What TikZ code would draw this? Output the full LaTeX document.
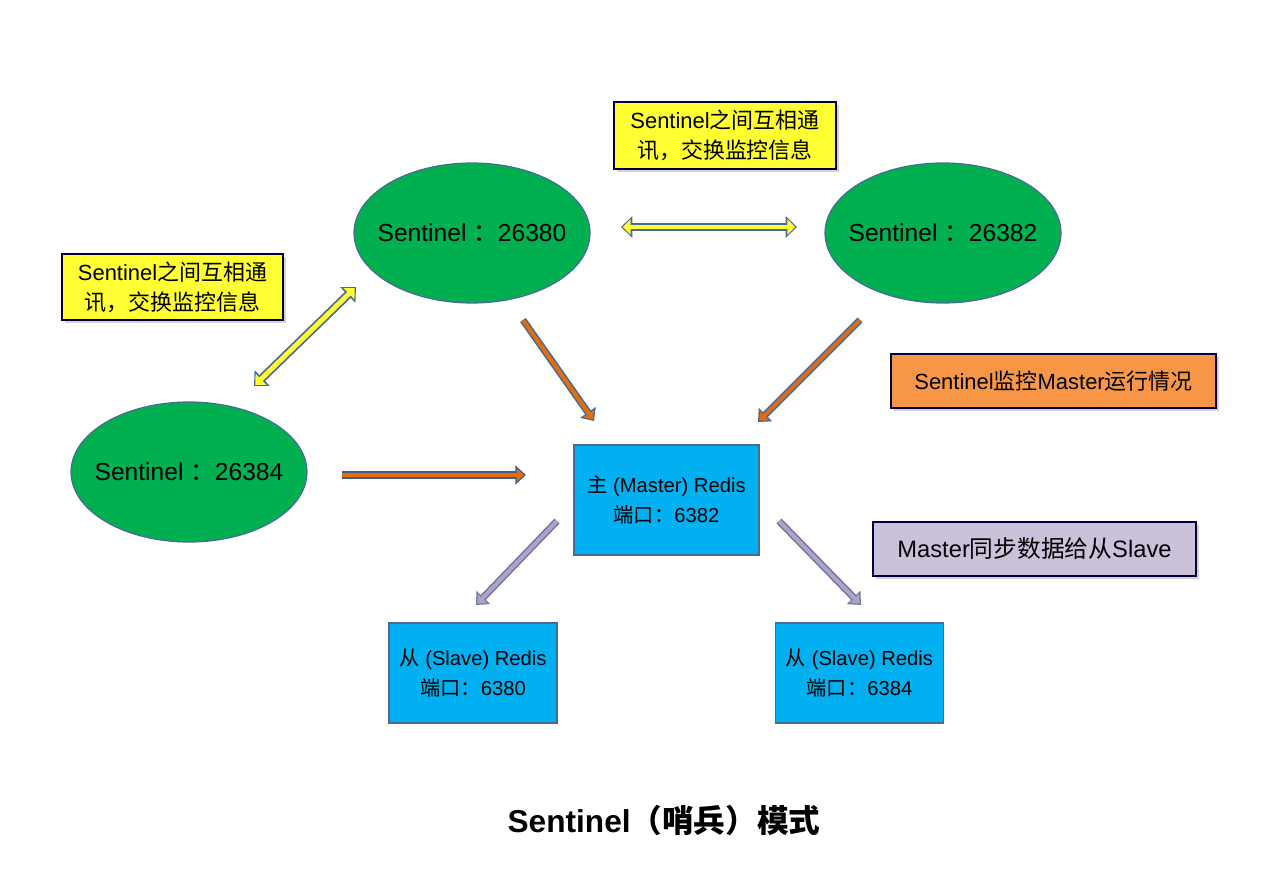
\documentclass[tikz,border=0pt]{standalone}
\usepackage{fontspec}
\setmainfont{Liberation Sans}
\newfontfamily\cjk{Noto Sans CJK SC}
\usetikzlibrary{arrows.meta,shapes.geometric,shadows}

\definecolor{sentgreen}{HTML}{00B050}
\definecolor{edgeblue}{HTML}{4A6A96}
\definecolor{noteyellow}{HTML}{FFFF33}
\definecolor{redisblue}{HTML}{00B0F0}
\definecolor{noteorange}{HTML}{F79646}
\definecolor{notelilac}{HTML}{CCC1DA}
\definecolor{arroworange}{HTML}{E46C0A}
\definecolor{arrowlilac}{HTML}{B3A2C7}

\tikzset{
  sentinel/.style={ellipse, draw=edgeblue, fill=sentgreen, line width=0.7pt,
    minimum width=4.72cm, minimum height=2.8cm, inner sep=0pt,
    label={[font=\fontsize{14}{17}\selectfont]center:#1}},
  redis/.style={draw=edgeblue, fill=redisblue, line width=0.7pt, align=center,
    minimum width=3.36cm, minimum height=2cm, font=\fontsize{11.5}{17}\selectfont},
  note/.style={draw=black!75!blue, line width=0.9pt, align=center,
    font=\fontsize{12.5}{17}\selectfont,
    drop shadow={shadow xshift=1.6pt, shadow yshift=-1.6pt, opacity=0.35}},
  fatboth/.style 2 args={draw=#1, line width=4.8pt,
    {Triangle[length=6.5pt,width=12pt]}-{Triangle[length=6.5pt,width=12pt]},
    postaction={draw=#2, line width=2.8pt,
      {Triangle[length=4.5pt,width=8.5pt]}-{Triangle[length=4.5pt,width=8.5pt]},
      shorten >=1pt, shorten <=1pt}},
  fat/.style 2 args={draw=#1, line width=4pt, -{Triangle[length=6pt,width=10.5pt]},
    postaction={draw=#2, line width=2.2pt, -{Triangle[length=4.2pt,width=7pt]},
      shorten >=1pt}}
}

\begin{document}
\begin{tikzpicture}[x=0.02cm, y=-0.02cm]
\useasboundingbox (0,0) rectangle (1269,876);

% sentinels
\node[sentinel={Sentinel {\cjk ：}26380}] (s80) at (472,233) {};
\node[sentinel={Sentinel {\cjk ：}26382}] (s82) at (943,233) {};
\node[sentinel={Sentinel {\cjk ：}26384}] (s84) at (189,472) {};

% redis servers
\node[redis, minimum width=3.7cm, minimum height=2.2cm] (master) at (666.5,500)
  {{\cjk 主} (Master) Redis\\{\cjk 端口：}6382};
\node[redis] (slave80) at (473,673) {{\cjk 从} (Slave) Redis\\{\cjk 端口：}6380};
\node[redis] (slave84) at (859.5,673) {{\cjk 从} (Slave) Redis\\{\cjk 端口：}6384};

% notes
\node[note, fill=noteyellow, minimum width=4.44cm, minimum height=1.34cm] (talktop) at (725,135.5)
  {Sentinel{\cjk 之间互相通}\\{\cjk 讯，交换监控信息}};
\node[note, fill=noteyellow, minimum width=4.42cm, minimum height=1.32cm] (talkleft) at (172.5,287)
  {Sentinel{\cjk 之间互相通}\\{\cjk 讯，交换监控信息}};
\node[note, fill=noteorange, minimum width=6.5cm, minimum height=1.08cm] (watch) at (1053.5,381)
  {Sentinel{\cjk 监控}Master{\cjk 运行情况}};
\node[note, fill=notelilac, minimum width=6.46cm, minimum height=1.08cm,
  font=\fontsize{13.5}{17}\selectfont] (sync) at (1034.5,549)
  {Master{\cjk 同步数据给从}Slave};

% title
\node[font=\fontsize{18}{22}\selectfont\bfseries] (title) at (664,820)
  {Sentinel{\cjk\bfseries （哨兵）模式}};

% arrow ends
\coordinate (t1) at (621,227);  \coordinate (t2) at (797,227);
\coordinate (d1) at (254,386);  \coordinate (d2) at (356,287);
\coordinate (b1) at (523,320);  \coordinate (b2) at (594,421);
\coordinate (c1) at (860,320);  \coordinate (c2) at (758,422);
\coordinate (h1) at (342,475);  \coordinate (h2) at (526,475);
\coordinate (l1) at (557,521);  \coordinate (l2) at (476,605);
\coordinate (r1) at (779,521);  \coordinate (r2) at (861,605);

\draw[fatboth={edgeblue}{noteyellow}] (t1) -- (t2);
\draw[fatboth={edgeblue}{noteyellow}] (d1) -- (d2);
\draw[fat={edgeblue}{arroworange}] (b1) -- (b2);
\draw[fat={edgeblue}{arroworange}] (c1) -- (c2);
\draw[fat={edgeblue!90!black}{arroworange}] (h1) -- (h2);
\draw[fat={edgeblue!70!arrowlilac}{arrowlilac}] (l1) -- (l2);
\draw[fat={edgeblue!70!arrowlilac}{arrowlilac}] (r1) -- (r2);

\end{tikzpicture}
\end{document}
